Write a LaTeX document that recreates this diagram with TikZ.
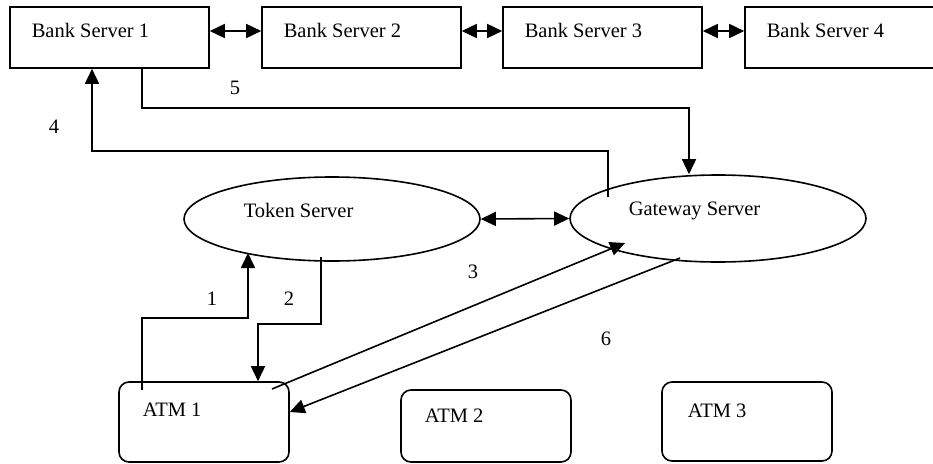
\documentclass[tikz,border=0pt]{standalone}
\usepackage{fontspec}
\setmainfont{Liberation Serif}
\usetikzlibrary{arrows.meta,shapes.geometric}
\begin{document}
\begin{tikzpicture}[x=1pt,y=-1pt, line width=1.6pt,
  bank/.style={draw, rectangle, minimum width=199pt, minimum height=61pt, inner sep=0pt},
  atm/.style={draw, rectangle, rounded corners=10pt, minimum width=170pt, inner sep=0pt},
  oval/.style={draw, ellipse, minimum width=296pt, inner sep=0pt},
  lbl/.style={anchor=base west, inner sep=0pt, font=\fontsize{20.5}{24}\selectfont},
  tip/.style={-{Triangle[length=15pt,width=14pt]}},
  dtip/.style={{Triangle[length=15pt,width=14pt]}-{Triangle[length=15pt,width=14pt]}}]
\useasboundingbox (0,0) rectangle (933,463);
\clip (0,0) rectangle (933,463);

% bank servers
\node[bank] (b1) at (109.5,37.5) {};
\node[bank] (b2) at (361.5,37.5) {};
\node[bank] (b3) at (602.5,37.5) {};
\node[bank] (b4) at (844.5,37.5) {};
\node[lbl] (b1t) at (31,37.3) {Bank Server 1};
\node[lbl] (b2t) at (283,37.3) {Bank Server 2};
\node[lbl] (b3t) at (524,37.3) {Bank Server 3};
\node[lbl] (b4t) at (766,37.3) {Bank Server 4};

\coordinate (ry) at (0,31);
\draw[dtip] (b1.east |- ry) -- (b2.west |- ry);
\draw[dtip] (b2.east |- ry) -- (b3.west |- ry);
\draw[dtip] (b3.east |- ry) -- (b4.west |- ry);

% servers
\node[oval, minimum height=84pt] (t) at (332,219) {};
\node[oval, minimum height=87pt] (g) at (718,218.5) {};
\node[lbl] (tt) at (243,217) {Token Server};
\node[lbl] (gt) at (628,215) {Gateway Server};
\draw[dtip] (t.east) -- (g.west);

% ATMs
\node[atm, minimum height=80pt] (a1) at (204,422) {};
\node[atm, minimum height=72pt] (a2) at (486,426) {};
\node[atm, minimum height=79pt] (a3) at (747,421.5) {};
\node[lbl] (a1t) at (142,416) {ATM 1};
\node[lbl] (a2t) at (424,422) {ATM 2};
\node[lbl] (a3t) at (687,417) {ATM 3};

% 5
\coordinate (c5) at (142,108);
\coordinate (c5b) at (689,108);
\draw[tip] (b1.south -| c5) -- (c5) -- (c5b) -- (c5b |- g.north);
% 4
\coordinate (s4) at (608,197);
\coordinate (c4) at (92,151);
\draw[tip] (s4) |- (c4) -- (c4 |- b1.south);
% 1
\coordinate (s1) at (142,390);
\coordinate (c1) at (248,318);
\coordinate (e1) at (248,253);
\draw[tip] (s1) |- (c1) -- (e1);
% 2
\coordinate (s2) at (321,257);
\coordinate (c2) at (258,324);
\draw[tip] (s2) |- (c2) -- (c2 |- a1.north);
% 3
\coordinate (s3) at (272,389);
\coordinate (e3) at (625,243);
\draw[tip] (s3) -- (e3);
% 6
\coordinate (s6) at (680,258);
\coordinate (y6) at (0,412);
\draw[tip] (s6) -- (a1.east |- y6);

% step labels
\node[lbl] (l5) at (229,94) {5};
\node[lbl] (l4) at (48,133) {4};
\node[lbl] (l1) at (206,305) {1};
\node[lbl] (l2) at (283,305) {2};
\node[lbl] (l3) at (467,278) {3};
\node[lbl] (l6) at (600,345) {6};
\end{tikzpicture}
\end{document}
